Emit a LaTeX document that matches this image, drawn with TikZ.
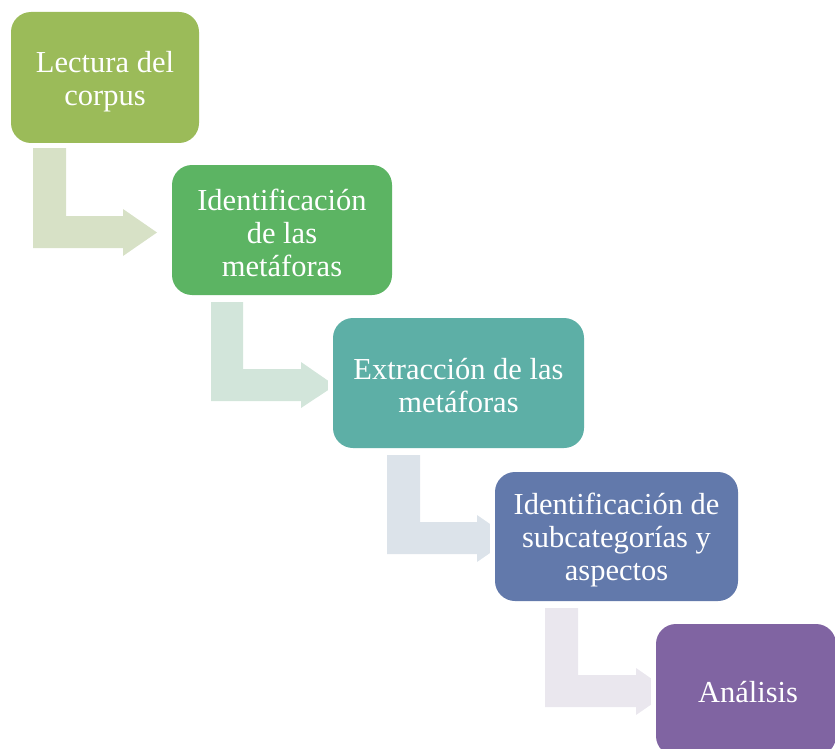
\documentclass[tikz,border=0pt]{standalone}
\usepackage{fontspec}
\setmainfont{Liberation Serif}
\begin{document}
\begin{tikzpicture}[x=1pt,y=-1pt,
  boxshape/.style={rounded corners=20pt, preaction={draw=white, line width=10pt}},
  boxtext/.style={text=white, align=center, inner sep=0pt,
    font=\fontsize{30.5}{33}\selectfont}]
\useasboundingbox (0,0) rectangle (835,749);
\definecolor{c1}{HTML}{9BBB59}
\definecolor{c2}{HTML}{5CB463}
\definecolor{c3}{HTML}{5DAFA6}
\definecolor{c4}{HTML}{6279AB}
\definecolor{c5}{HTML}{8064A2}
\definecolor{a1}{HTML}{D7E1C6}
\definecolor{a2}{HTML}{D2E5DA}
\definecolor{a3}{HTML}{DCE3EA}
\definecolor{a4}{HTML}{EAE7EE}
% bent arrows
\fill[a1] (33,148) -- (66,148) -- (66,216) -- (123,216) -- (123,209) -- (157,232.5) -- (123,256) -- (123,248) -- (33,248) -- cycle;
\fill[a2] (211,302) -- (243,302) -- (243,369) -- (301,369) -- (301,362) -- (335,385.5) -- (301,408) -- (301,401) -- (211,401) -- cycle;
\fill[a3] (387,455) -- (420,455) -- (420,522) -- (477,522) -- (477,515) -- (511,538.5) -- (477,562) -- (477,554) -- (387,554) -- cycle;
\fill[a4] (545,608) -- (578,608) -- (578,675) -- (636,675) -- (636,668) -- (670,691.5) -- (636,715) -- (636,707) -- (545,707) -- cycle;
% boxes
\path[fill=c1, boxshape] (11,12) rectangle (199,143);
\node[boxtext] (b1) at (105,82) {Lectura del\\corpus};
\path[fill=c2, boxshape] (172,165) rectangle (392,295);
\node[boxtext] (b2) at (282,232.5) {Identificación\\de las\\metáforas};
\path[fill=c3, boxshape] (333,318) rectangle (584,448);
\node[boxtext] (b3) at (458.5,385.5) {Extracción de las\\metáforas};
\path[fill=c4, boxshape] (495,472) rectangle (738,601);
\node[boxtext] (b4) at (616.5,540.5) {Identificación de\\subcategorías y\\aspectos};
\path[fill=c5, boxshape] (656,624) rectangle (836,756);
\node[boxtext] (b5) at (748,692) {Análisis};
\end{tikzpicture}
\end{document}
